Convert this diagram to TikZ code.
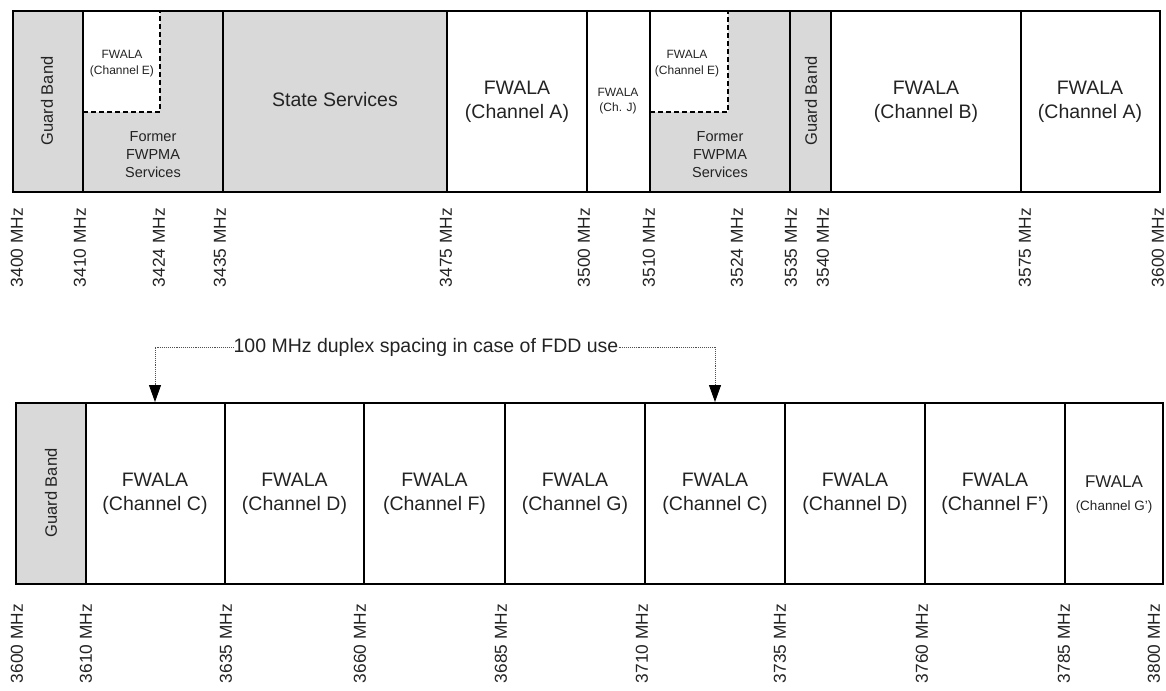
\documentclass[tikz,border=0pt]{standalone}
\usepackage{fontspec}
\setmainfont{Liberation Sans}
\usetikzlibrary{arrows.meta}
\definecolor{bandgray}{RGB}{217,217,217}
\definecolor{txt}{RGB}{35,35,35}
\definecolor{dotc}{RGB}{80,80,80}
\begin{document}
\begin{tikzpicture}[x=1pt,y=-1pt,
  border/.style={line width=2.3pt},
  divider/.style={line width=2pt},
  echan/.style={line width=2.2pt, dash pattern=on 5pt off 3pt},
  lbl/.style={align=center, text=txt, inner sep=0pt},
  big/.style={lbl, font=\fontsize{19.5}{23.5}\selectfont},
  mid/.style={lbl, font=\fontsize{14.5}{18}\selectfont},
  small/.style={lbl, font=\fontsize{12}{16.5}\selectfont},
  guard/.style={lbl, rotate=90, font=\fontsize{16.5}{20}\selectfont},
  freq/.style={lbl, rotate=90, anchor=east, font=\fontsize{17.3}{20}\selectfont},
  dupline/.style={dotc, line width=0.9pt, densely dotted, -{Triangle[length=17pt,width=12pt,black]}}
]
\useasboundingbox (0,0) rectangle (1166,690);
\clip (0,0) rectangle (1166,690);

% ---------------- top band 3400-3600 MHz ----------------
\fill[bandgray] (13,11) rectangle (447,192);
\fill[white] (83,11) rectangle (160,112);
\fill[bandgray] (650,11) rectangle (831,192);
\fill[white] (650,11) rectangle (728,112);
\draw[echan] (83,112) -- (160,112) -- (160,11);
\draw[echan] (650,112) -- (728,112) -- (728,11);
\foreach \x in {83,223,447,587,650,790,831,1021}
  \draw[divider] (\x,11) -- (\x,192);
\draw[border] (13,11) rectangle (1160,192);

\node[guard] (tg1) at (47,101) {Guard Band};
\node[small] (te1) at (122,63.5) {FWALA\\(Channel E)};
\node[mid] (tf1) at (153,155) {Former\\FWPMA\\Services};
\node[big] (tss) at (335,100) {State Services};
\node[big] (ta1) at (517,102) {FWALA\\(Channel A)};
\node[lbl, font=\fontsize{12}{15}\selectfont] (tj) at (618,101.5) {FWALA\\(Ch. J)};
\node[small] (te2) at (687,63.5) {FWALA\\(Channel E)};
\node[mid] (tf2) at (720,155) {Former\\FWPMA\\Services};
\node[guard] (tg2) at (811,101) {Guard Band};
\node[big] (tb) at (926,102) {FWALA\\(Channel B)};
\node[big] (ta2) at (1090,102) {FWALA\\(Channel A)};

\foreach \x/\f [count=\i] in {17/3400,80/3410,159/3424,220/3435,446/3475,584/3500,649/3510,737/3524,791/3535,823/3540,1025/3575,1158/3600}
  \node[freq] (tfq\i) at (\x,208) {\f{} MHz};

% ---------------- duplex spacing arrow ----------------
\node[lbl, font=\fontsize{19.5}{23.5}\selectfont] (dup) at (426,347) {100 MHz duplex spacing in case of FDD use};
\coordinate (c1) at (155,402);
\coordinate (c2) at (715,402);
\draw[dupline] (dup.west) -| (c1);
\draw[dupline] (dup.east) -| (c2);

% ---------------- bottom band 3600-3800 MHz ----------------
\fill[bandgray] (16,403) rectangle (86,584);
\foreach \x in {86,225,364,505,645,785,925,1065}
  \draw[divider] (\x,403) -- (\x,584);
\draw[border] (16,403) rectangle (1163,584);

\node[guard] (bg) at (51,493) {Guard Band};
\node[big] (bc1) at (155,494) {FWALA\\(Channel C)};
\node[big] (bd1) at (294.5,494) {FWALA\\(Channel D)};
\node[big] (bf) at (434.5,494) {FWALA\\(Channel F)};
\node[big] (bgc) at (575,494) {FWALA\\(Channel G)};
\node[big] (bc2) at (715,494) {FWALA\\(Channel C)};
\node[big] (bd2) at (855,494) {FWALA\\(Channel D)};
\node[big] (bf2) at (995,494) {FWALA\\(Channel F')};
\node[lbl, font=\fontsize{17}{23}\selectfont] (bg2) at (1114,495) {FWALA\\{\fontsize{13.5}{16}\selectfont (Channel G')}};

\foreach \x/\f [count=\i] in {17/3600,86/3610,226/3635,360/3660,501/3685,642/3710,780/3735,922/3760,1064/3785,1154/3800}
  \node[freq] (bfq\i) at (\x,604) {\f{} MHz};
\end{tikzpicture}
\end{document}
